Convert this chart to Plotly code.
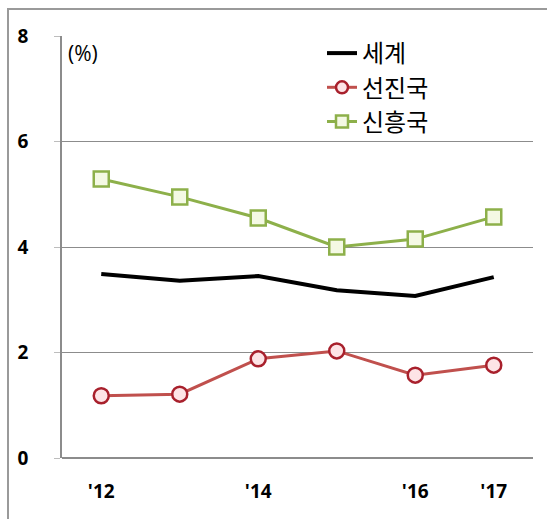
import plotly.graph_objects as go

years = [2012, 2013, 2014, 2015, 2016, 2017]
tick_years = [2012, 2014, 2016, 2017]
tick_text = ["'12", "'14", "'16", "'17"]
world = [3.49, 3.36, 3.45, 3.18, 3.07, 3.43]
advanced = [1.18, 1.21, 1.88, 2.03, 1.57, 1.76]
emerging = [5.29, 4.95, 4.55, 4.00, 4.15, 4.57]
names = ["세계", "선진국", "신흥국"]

W, H = 547, 519
L, R, T, B = 62, 14, 36, 61
pw, ph = W - L - R, H - T - B

red_line = dict(color="#C0504D", width=3)
red_mk = dict(symbol="circle", color="#FDE4E6", line=dict(color="#A8202C", width=2.5))
grn_line = dict(color="#8DB04A", width=3)
grn_mk = dict(symbol="square", color="#F4F9E4", line=dict(color="#8DB04A", width=2.5))

fig = go.Figure()
fig.add_trace(go.Scatter(x=years, y=world, name=names[0], mode="lines",
                         line=dict(color="#000000", width=4)))
fig.add_trace(go.Scatter(x=years, y=advanced, name=names[1], mode="lines+markers",
                         line=red_line, marker=dict(size=15, **red_mk), showlegend=False))
fig.add_trace(go.Scatter(x=years, y=emerging, name=names[2], mode="lines+markers",
                         line=grn_line, marker=dict(size=15, **grn_mk), showlegend=False))
# legend entries with smaller sample markers
fig.add_trace(go.Scatter(x=[None], y=[None], name=names[1], mode="lines+markers",
                         line=red_line, marker=dict(size=12, **red_mk)))
fig.add_trace(go.Scatter(x=[None], y=[None], name=names[2], mode="lines+markers",
                         line=grn_line, marker=dict(size=12, **grn_mk)))

fig.update_layout(
    width=W, height=H,
    margin=dict(l=L, r=R, t=T, b=B),
    paper_bgcolor="white", plot_bgcolor="white",
    font=dict(family="Noto Sans CJK KR", color="#000000"),
    legend=dict(x=(322 - L) / pw, y=(458 - 31) / ph, xanchor="left", yanchor="top",
                font=dict(size=24, family="Noto Sans CJK KR"),
                bgcolor="rgba(0,0,0,0)", tracegroupgap=0, itemwidth=30),
    xaxis=dict(range=[2011.5, 2017.5], tickvals=tick_years, ticktext=tick_text,
               showgrid=False, zeroline=False, showline=False, ticks="",
               tickfont=dict(size=19, family="Open Sans", weight="bold"),
               ticklabelstandoff=20),
    yaxis=dict(range=[0, 8], tickvals=[0, 2, 4, 6, 8], showgrid=True,
               gridcolor="#8C8C8C", gridwidth=1, zeroline=True, zerolinecolor="#8C8C8C",
               zerolinewidth=1.5,
               showline=True, linecolor="#8C8C8C", linewidth=1.5,
               ticks="outside", ticklen=6, tickcolor="#BDBDBD",
               tickfont=dict(size=19, family="Open Sans", weight="bold"),
               ticklabelstandoff=22),
    shapes=[
        dict(type="line", xref="paper", yref="paper", x0=(8 - L) / pw, x1=1.2,
             y0=(458 - 9) / ph, y1=(458 - 9) / ph, line=dict(color="#9A9A9A", width=2)),
        dict(type="line", xref="paper", yref="paper", x0=(8 - L) / pw, x1=(8 - L) / pw,
             y0=(458 - 8) / ph, y1=-0.2, line=dict(color="#9A9A9A", width=2)),
    ],
    annotations=[dict(text="(%)", xref="paper", yref="paper", x=(66 - L) / pw,
                      y=(458 - 37) / ph, xanchor="left", yanchor="top", showarrow=False,
                      font=dict(size=21, family="Open Sans"))],
)

fig.write_html("out.html")
